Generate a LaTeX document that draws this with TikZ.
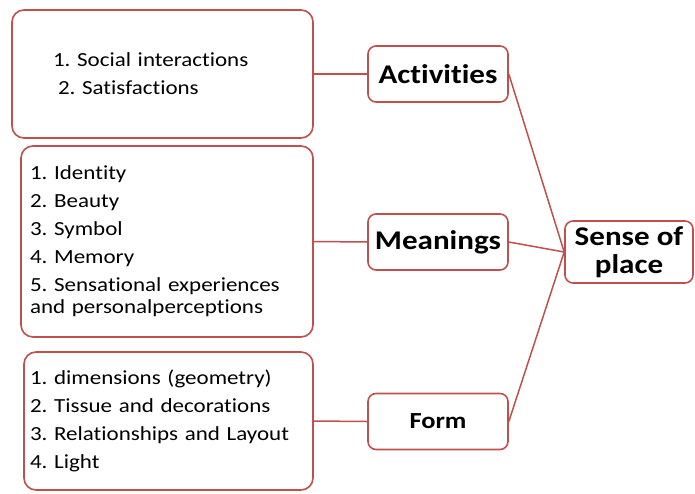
\documentclass[tikz,border=0pt]{standalone}
\usepackage{fontspec}
\setmainfont{Carlito}[FakeStretch=1.15, Ligatures=NoCommon]
\definecolor{boxred}{HTML}{C0504D}
\frenchspacing

\tikzset{
	listbox/.style={draw=boxred, line width=1.6pt, rounded corners=12pt, align=left, inner ysep=0pt, font=\fontsize{20}{22}\selectfont},
	headbox/.style={draw=boxred, line width=1.6pt, rounded corners=8pt, minimum width=140pt, minimum height=56pt, inner sep=0pt, align=center, font=\bfseries\fontsize{27}{27}\selectfont},
	link/.style={draw=boxred, line width=1.5pt}
}

\begin{document}
\begin{tikzpicture}[x=1pt, y=-1pt]
			\useasboundingbox (0,0) rectangle (695,493);

			% lists on the left
			\node[listbox, text width=219pt, inner xsep=41pt, minimum height=128pt] (actlist) at(162.5, 74){1. Social interactions\\[6pt]\hspace*{5pt}2. Satisfactions};
			\node[listbox, text width=274pt, inner xsep=9pt, minimum height=191pt] (meanlist) at(167, 241.5){1. Identity\\[6pt]2. Beauty\\[6pt]3. Symbol\\[6pt]4. Memory\\[6pt]5. Sensational experiences\\and personalperceptions};
			\node[listbox, text width=277pt, inner xsep=6pt, minimum height=138pt] (formlist) at(168.5, 421){1. dimensions (geometry)\\[6pt]2. Tissue and decorations\\[6pt]3. Relationships and Layout\\[6pt]4. Light};

			% middle column
			\node[headbox] (act) at(438, 74){Activities};
			\node[headbox] (mean) at(438, 242){Meanings};
			\node[headbox, font=\bfseries\fontsize{23}{23}\selectfont] (form) at(438, 421.5){Form};

			\node[headbox, minimum width=128pt, minimum height=62pt, font=\bfseries\fontsize{27}{28}\selectfont] (sense) at(629, 252){Sense of\\place};

			\draw[link] (actlist.east) -- (act.west);
			\draw[link] (meanlist.east) -- (mean.west);
			\draw[link] (formlist.east) -- (form.west);

			\draw[link] (act.east) -- (sense.west);
			\draw[link] (mean.east) -- (sense.west);
			\draw[link] (form.east) -- (sense.west);
\end{tikzpicture}
\end{document}
